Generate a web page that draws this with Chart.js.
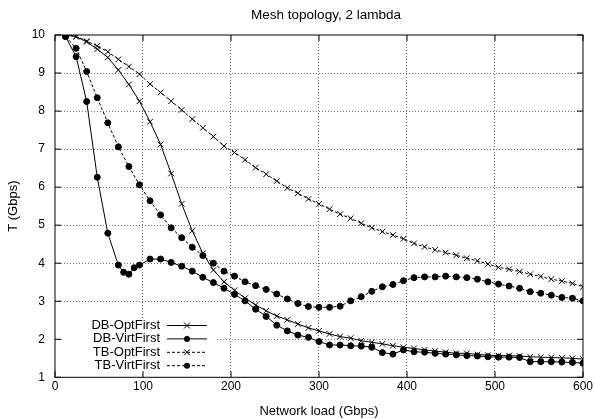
<!DOCTYPE html>
<html>
<head>
<meta charset="utf-8">
<script src="https://cdn.jsdelivr.net/npm/chart.js@4/dist/chart.umd.min.js"></script>
<style>
  html, body { margin: 0; padding: 0; background: #fff; }
</style>
</head>
<body>
<canvas id="myChart" width="595" height="419"></canvas>
<script>
// Network load values (Gbps) where each run was measured
const loadX = [12, 24, 36, 48, 60, 72, 84, 96, 108, 120, 132, 144, 156, 168, 180, 192, 204, 216, 228, 240,
  252, 264, 276, 288, 300, 312, 324, 336, 348, 360, 372, 384, 396, 408, 420, 432, 444, 456, 468, 480,
  492, 504, 516, 528, 540, 552, 564, 576, 588, 600];
// DB-VirtFirst has two extra runs (78 and 90)
const loadXDbVirt = [12, 24, 36, 48, 60, 72, 78, 84, 90, 96, 108, 120, 132, 144, 156, 168, 180, 192, 204, 216,
  228, 240, 252, 264, 276, 288, 300, 312, 324, 336, 348, 360, 372, 384, 396, 408, 420, 432, 444, 456,
  468, 480, 492, 504, 516, 528, 540, 552, 564, 576, 588, 600];

// Throughput T (Gbps)
const dbOptFirst = [10, 9.96, 9.82, 9.63, 9.41, 9.08, 8.70, 8.26, 7.72, 7.12, 6.36, 5.56, 4.85, 4.26, 3.82, 3.51, 3.29, 3.08, 2.90, 2.75,
  2.61, 2.51, 2.40, 2.30, 2.22, 2.14, 2.07, 2.03, 1.96, 1.92, 1.88, 1.83, 1.79, 1.76, 1.72, 1.69, 1.66, 1.63, 1.63, 1.60,
  1.58, 1.57, 1.57, 1.56, 1.54, 1.53, 1.52, 1.51, 1.50, 1.48];
const dbVirtFirst = [9.96, 9.43, 8.25, 6.26, 4.79, 3.95, 3.76, 3.71, 3.88, 3.95, 4.11, 4.11, 4.02, 3.92, 3.79, 3.63, 3.49, 3.34, 3.18, 3.01,
  2.79, 2.60, 2.37, 2.22, 2.11, 2.05, 1.94, 1.85, 1.85, 1.83, 1.82, 1.79, 1.65, 1.61, 1.72, 1.67, 1.66, 1.63, 1.61, 1.59,
  1.57, 1.56, 1.54, 1.53, 1.53, 1.52, 1.41, 1.41, 1.41, 1.40, 1.39, 1.37];
const tbOptFirst = [10, 9.96, 9.84, 9.71, 9.56, 9.36, 9.17, 8.97, 8.71, 8.49, 8.26, 8.03, 7.79, 7.56, 7.33, 7.08, 6.91, 6.72, 6.51, 6.34,
  6.16, 5.98, 5.84, 5.69, 5.56, 5.42, 5.29, 5.18, 5.05, 4.93, 4.83, 4.74, 4.64, 4.52, 4.43, 4.35, 4.28, 4.21, 4.13, 4.06,
  3.98, 3.89, 3.84, 3.78, 3.71, 3.65, 3.58, 3.53, 3.47, 3.38];
const tbVirtFirst = [9.96, 9.65, 9.04, 8.35, 7.69, 7.06, 6.54, 6.06, 5.64, 5.27, 4.93, 4.67, 4.42, 4.20, 4.00, 3.79, 3.66, 3.51, 3.41, 3.31,
  3.19, 3.06, 2.94, 2.86, 2.84, 2.84, 2.87, 3.01, 3.12, 3.26, 3.38, 3.44, 3.54, 3.62, 3.64, 3.64, 3.66, 3.64, 3.62, 3.58,
  3.51, 3.45, 3.40, 3.34, 3.25, 3.21, 3.16, 3.10, 3.08, 3.01];

const xTicks = [0, 100, 200, 300, 400, 500, 600];
const yTicks = [1, 2, 3, 4, 5, 6, 7, 8, 9, 10];

const FONT = "'Liberation Sans', Arial, Helvetica, sans-serif";

function pairs(xs, ys)
{
  return xs.map((x, i) => ({ x: x, y: ys[i] }));
}

function makeSet(label, xs, ys, dashed, dot)
{
  return {
    label: label,
    data: pairs(xs, ys),
    borderColor: '#000',
    borderWidth: 1,
    borderDash: dashed ? [3, 2] : [],
    pointStyle: dot ? 'circle' : 'crossRot',
    pointRadius: dot ? 3 : 4,
    pointBorderWidth: 1,
    pointBorderColor: '#000',
    pointBackgroundColor: '#000',
    fill: false,
    tension: 0
  };
}

// gnuplot-like frame: border box, inward ticks, title and key
const framePlugin = {
  id: 'frame',
  afterDatasetsDraw(chart)
  {
    const ctx = chart.ctx;
    const a = chart.chartArea;
    const xs = chart.scales.x;
    const ys = chart.scales.y;
    ctx.save();

    // key box (clears grid behind it)
    ctx.fillStyle = '#fff';
    ctx.fillRect(64, 318, 151, 54);

    const rows = [
      { text: 'DB-OptFirst', dashed: false, dot: false },
      { text: 'DB-VirtFirst', dashed: false, dot: true },
      { text: 'TB-OptFirst', dashed: true, dot: false },
      { text: 'TB-VirtFirst', dashed: true, dot: true }
    ];
    ctx.font = '13px ' + FONT;
    ctx.textAlign = 'right';
    ctx.textBaseline = 'middle';
    rows.forEach((r, i) => {
      const y = 325.5 + i * 13.4;
      ctx.fillStyle = '#000';
      ctx.fillText(r.text, 160, y);
      ctx.strokeStyle = '#000';
      ctx.lineWidth = 1;
      ctx.setLineDash(r.dashed ? [3, 2] : []);
      ctx.beginPath();
      ctx.moveTo(167, y);
      ctx.lineTo(207, y);
      ctx.stroke();
      ctx.setLineDash([]);
      ctx.beginPath();
      if (r.dot)
      {
        ctx.arc(187, y, 3, 0, Math.PI * 2);
        ctx.fill();
      }
      else
      {
        ctx.moveTo(184, y - 3); ctx.lineTo(190, y + 3);
        ctx.moveTo(184, y + 3); ctx.lineTo(190, y - 3);
        ctx.stroke();
      }
    });

    // border
    ctx.setLineDash([]);
    ctx.strokeStyle = '#000';
    ctx.lineWidth = 1;
    ctx.strokeRect(a.left, a.top, a.right - a.left, a.bottom - a.top);

    // inward ticks on all four sides
    ctx.beginPath();
    xTicks.forEach(v => {
      const px = xs.getPixelForValue(v);
      ctx.moveTo(px, a.bottom); ctx.lineTo(px, a.bottom - 6);
      ctx.moveTo(px, a.top); ctx.lineTo(px, a.top + 6);
    });
    yTicks.forEach(v => {
      const py = ys.getPixelForValue(v);
      ctx.moveTo(a.left, py); ctx.lineTo(a.left + 6, py);
      ctx.moveTo(a.right, py); ctx.lineTo(a.right - 6, py);
    });
    ctx.stroke();

    // title
    ctx.font = '13.5px ' + FONT;
    ctx.textAlign = 'center';
    ctx.textBaseline = 'alphabetic';
    ctx.fillStyle = '#000';
    ctx.fillText('Mesh topology, 2 lambda', 326, 19);

    ctx.restore();
  }
};

function gridColor(c)
{
  const s = c.scale;
  if (c.tick && (c.tick.value === s.min || c.tick.value === s.max)) return 'rgba(0,0,0,0)';
  return 'rgba(0,0,0,0.55)';
}

const data = {
  datasets: [
    makeSet('DB-OptFirst', loadX, dbOptFirst, false, false),
    makeSet('DB-VirtFirst', loadXDbVirt, dbVirtFirst, false, true),
    makeSet('TB-OptFirst', loadX, tbOptFirst, true, false),
    makeSet('TB-VirtFirst', loadX, tbVirtFirst, true, true)
  ]
};

const config = {
  type: 'line',
  data,
  options: {
    responsive: false,
    animation: false,
    devicePixelRatio: 1,
    layout: { padding: { left: 0, right: 10.7, top: 35, bottom: 0 } },
    plugins: {
      legend: { display: false },
      tooltip: { enabled: false },
      title: { display: false }
    },
    scales: {
      x: {
        type: 'linear',
        min: 0,
        max: 600,
        afterBuildTicks: (s) => { s.ticks = xTicks.map(v => ({ value: v })); },
        afterFit: (s) => { s.height = 41.7; },
        ticks: { color: '#000', font: { family: FONT, size: 12 }, padding: 2, maxRotation: 0 },
        grid: { drawTicks: false, color: gridColor, lineWidth: 1 },
        border: { display: false, dash: [1, 2] },
        title: { display: true, text: 'Network load (Gbps)', color: '#000', font: { family: FONT, size: 13 }, padding: { top: 0, bottom: 0 } }
      },
      y: {
        type: 'linear',
        min: 1,
        max: 10,
        afterBuildTicks: (s) => { s.ticks = yTicks.map(v => ({ value: v })); },
        afterFit: (s) => { s.width = 55; },
        ticks: { color: '#000', font: { family: FONT, size: 12 }, padding: 10 },
        grid: { drawTicks: false, color: gridColor, lineWidth: 1 },
        border: { display: false, dash: [1, 2] },
        title: { display: true, text: 'T (Gbps)', color: '#000', font: { family: FONT, size: 13 }, padding: { top: 6, bottom: 0 } }
      }
    }
  },
  plugins: [framePlugin]
};

const chart = new Chart(document.getElementById('myChart'), config);
</script>
</body>
</html>
